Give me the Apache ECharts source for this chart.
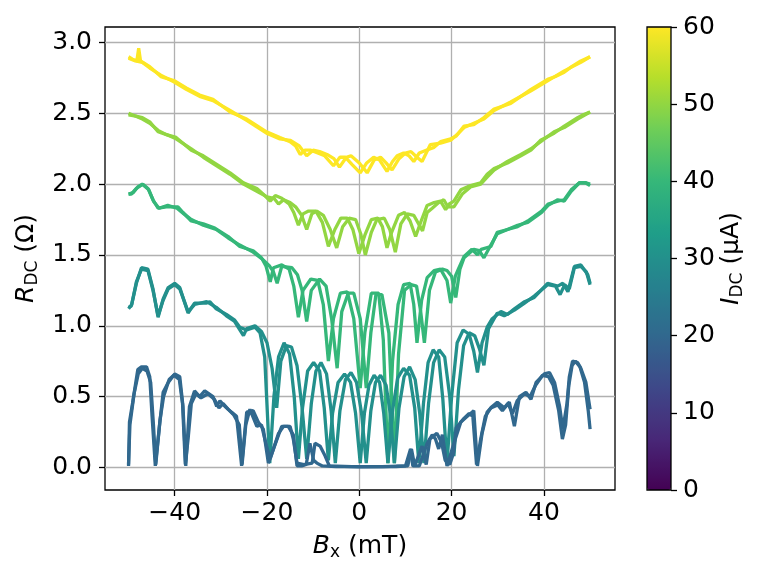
<!DOCTYPE html>
<html>
<head>
<meta charset="utf-8">
<script src="https://cdn.jsdelivr.net/npm/echarts@6/dist/echarts.min.js"></script>
<style>
  html, body { margin: 0; padding: 0; background: #fff; }
  #chart { width: 773px; height: 580px; }
</style>
</head>
<body>
<div id="chart"></div>
<script>
// B_x (mT), R_DC (Ohm); two field sweeps per current
const sweep60a = [[-50,2.90],[-49,2.88],[-48.2,2.87],[-47.8,2.96],[-47.4,2.87],[-45.4,2.83],[-43,2.76],[-40,2.73],[-37.5,2.68],[-34.6,2.63],[-31.7,2.60],[-28,2.51],[-24.4,2.46],[-20.1,2.37],[-17.2,2.33],[-15,2.30],[-13.8,2.27],[-12.8,2.21],[-11.8,2.24],[-10.5,2.24],[-9,2.22],[-7.5,2.20],[-5.6,2.13],[-4.2,2.19],[-3,2.19],[-1.6,2.14],[0.2,2.08],[1.6,2.15],[3.1,2.19],[4.4,2.17],[6.0,2.09],[7.2,2.16],[8.2,2.20],[9.6,2.22],[10.8,2.20],[11.8,2.16],[13,2.22],[14.5,2.24],[16.2,2.26],[17.6,2.30],[19.8,2.32],[21,2.34],[22.7,2.41],[24.8,2.42],[27,2.47],[29.2,2.53],[32.8,2.57],[35,2.62],[37.2,2.67],[40.8,2.74],[42.5,2.76],[44.4,2.79],[46,2.83],[48,2.87],[50,2.90]];
const sweep60b = [[-50,2.89],[-48.5,2.87],[-47,2.86],[-45.4,2.82],[-43,2.77],[-40,2.72],[-37.5,2.67],[-34.6,2.62],[-31.7,2.59],[-28,2.52],[-24.4,2.45],[-20.1,2.36],[-17.2,2.32],[-15,2.31],[-13,2.27],[-11.4,2.20],[-10,2.24],[-8.6,2.23],[-7,2.21],[-5.5,2.18],[-4.3,2.12],[-2.8,2.19],[-1.8,2.20],[0,2.15],[1.7,2.08],[3.2,2.17],[4.6,2.19],[5.8,2.15],[7.1,2.10],[8.6,2.18],[10,2.22],[11.2,2.23],[12.5,2.19],[13.6,2.16],[15.4,2.28],[17.6,2.29],[19.8,2.31],[21.5,2.36],[22.7,2.40],[24.8,2.43],[27,2.46],[29.2,2.52],[32.8,2.58],[37.2,2.66],[40.8,2.73],[44.4,2.80],[48,2.86],[50,2.90]];

const sweep50a = [[-50,2.50],[-48.4,2.48],[-47,2.47],[-45.4,2.44],[-43.6,2.37],[-41.8,2.35],[-39.7,2.33],[-36.4,2.24],[-33.8,2.20],[-30.9,2.14],[-28,2.08],[-25.1,2.01],[-22.2,1.97],[-20.5,1.92],[-19.3,1.88],[-18.2,1.92],[-16.8,1.90],[-15.2,1.86],[-14.2,1.80],[-13.2,1.71],[-12.2,1.79],[-11,1.81],[-9.4,1.81],[-8,1.73],[-6.7,1.56],[-5.3,1.68],[-4,1.76],[-2.6,1.76],[-1.4,1.68],[-0.1,1.51],[1.2,1.64],[2.6,1.75],[4,1.76],[5,1.70],[6.0,1.55],[7,1.66],[8.5,1.78],[9.8,1.80],[11,1.74],[12.2,1.63],[13.4,1.74],[14.7,1.85],[16.2,1.87],[17.6,1.88],[18.7,1.82],[19.5,1.86],[20.5,1.88],[22,1.96],[24.1,1.99],[26.3,2.01],[27.7,2.07],[29.2,2.11],[32.1,2.15],[35,2.20],[37.2,2.24],[39.3,2.31],[42.2,2.36],[44.4,2.41],[47.3,2.47],[48.5,2.49],[50,2.51]];
const sweep50b = [[-50,2.49],[-48.4,2.48],[-47,2.46],[-45.4,2.43],[-43.6,2.38],[-41.8,2.35],[-39.7,2.32],[-36.4,2.25],[-33.8,2.19],[-30.9,2.13],[-28,2.07],[-25.1,2.00],[-22.2,1.95],[-20,1.91],[-18.5,1.90],[-17.5,1.86],[-16.4,1.89],[-15,1.87],[-13.8,1.84],[-12.5,1.78],[-11.4,1.68],[-10.3,1.79],[-9.2,1.81],[-7.8,1.78],[-6.3,1.68],[-4.9,1.55],[-3.6,1.70],[-2.2,1.76],[-0.8,1.75],[0.3,1.65],[1.3,1.50],[2.6,1.66],[3.8,1.75],[5.4,1.76],[6.6,1.68],[7.8,1.52],[9,1.72],[10.4,1.79],[11.8,1.78],[13.7,1.67],[14.7,1.80],[15.8,1.83],[17.2,1.87],[18.3,1.89],[19.2,1.84],[20.5,1.84],[22.3,1.93],[24.1,1.98],[26.3,2.00],[27.7,2.05],[29.2,2.10],[32.1,2.16],[35,2.21],[37.2,2.25],[39.3,2.30],[42.2,2.37],[44.4,2.40],[47.3,2.46],[50,2.51]];

const sweep40a = [[-50,1.93],[-49.4,1.93],[-48.3,1.97],[-46.9,2.00],[-45.8,1.97],[-44.7,1.89],[-43.6,1.83],[-41.8,1.84],[-39.3,1.84],[-38.2,1.80],[-36.4,1.74],[-33.8,1.72],[-31.3,1.69],[-28.4,1.63],[-25.9,1.56],[-23,1.53],[-21.2,1.48],[-20.2,1.42],[-19.3,1.31],[-18.6,1.41],[-16.8,1.43],[-15.2,1.40],[-14.2,1.28],[-13.2,1.06],[-12.2,1.25],[-10.5,1.33],[-9,1.32],[-7.8,1.15],[-6.7,0.75],[-5.6,1.05],[-4.1,1.23],[-2.6,1.24],[-1.2,1.05],[0.2,0.56],[1.2,0.95],[2.6,1.23],[4.2,1.23],[5.2,0.90],[6.2,0.03],[7.2,0.75],[8.4,1.15],[9.6,1.29],[11,1.30],[11.8,1.15],[12.5,0.88],[13.5,1.18],[14.7,1.34],[16.2,1.39],[17.6,1.40],[19,1.32],[19.8,1.16],[20.8,1.35],[21.6,1.41],[22.7,1.49],[24.4,1.54],[25.6,1.50],[26.4,1.54],[28.5,1.56],[29.9,1.66],[32.1,1.68],[34.3,1.70],[36.5,1.74],[39.5,1.81],[40.9,1.86],[43,1.88],[44.4,1.89],[45.9,1.96],[47.7,2.01],[49.1,2.01],[50,2.00]];
const sweep40b = [[-50,1.93],[-49,1.94],[-48,1.98],[-47,2.00],[-45.6,1.96],[-44.6,1.88],[-43.4,1.83],[-41.5,1.85],[-39.5,1.83],[-38,1.79],[-36.4,1.75],[-33.8,1.71],[-31,1.68],[-28.4,1.62],[-25.9,1.57],[-23,1.52],[-21,1.47],[-19.4,1.42],[-18.6,1.38],[-17.8,1.30],[-16.8,1.42],[-14.6,1.41],[-13.4,1.36],[-12.4,1.25],[-11.4,1.03],[-10.4,1.25],[-8.6,1.33],[-7.2,1.28],[-6,1.05],[-4.8,0.70],[-3.8,1.10],[-2.4,1.23],[-1.2,1.23],[0.2,1.05],[1.5,0.56],[2.5,0.95],[3.6,1.22],[4.9,1.22],[6.4,0.95],[7.6,0.03],[8.5,0.80],[9.8,1.25],[11.2,1.29],[12.4,1.28],[13.3,1.10],[14.1,0.88],[15.2,1.25],[16.5,1.38],[18,1.40],[19,1.39],[20,1.35],[20.9,1.20],[21.8,1.40],[22.7,1.48],[24.8,1.54],[26,1.53],[27,1.48],[28.5,1.57],[29.9,1.65],[32.1,1.68],[34.3,1.71],[36.5,1.73],[39.5,1.80],[40.9,1.85],[43,1.89],[44.4,1.88],[45.9,1.95],[47.7,2.01],[49,2.01],[50,1.99]];

const sweep30a = [[-50,1.13],[-49.4,1.14],[-48.3,1.30],[-47.2,1.41],[-45.8,1.40],[-44.7,1.26],[-43.6,1.06],[-42.5,1.19],[-41.4,1.27],[-40,1.30],[-38.9,1.27],[-37.1,1.09],[-35.7,1.16],[-33.1,1.16],[-32.4,1.17],[-31,1.12],[-28.8,1.08],[-27,1.04],[-25.9,0.99],[-24.4,0.97],[-22.6,0.99],[-21.5,0.95],[-20.5,0.78],[-19.4,0.03],[-18.5,0.50],[-17.5,0.78],[-16.3,0.88],[-15.1,0.80],[-14.1,0.50],[-13.2,0.06],[-12.3,0.42],[-11.2,0.68],[-9.9,0.74],[-8.6,0.68],[-7.6,0.42],[-6.7,0.05],[-5.8,0.38],[-4.6,0.60],[-3.2,0.66],[-1.9,0.60],[-0.8,0.38],[0.2,0.03],[1.1,0.38],[2.1,0.58],[3.2,0.65],[4.4,0.60],[5.3,0.38],[6.2,0.03],[7.2,0.40],[8.3,0.63],[9.6,0.70],[10.9,0.65],[12,0.42],[12.9,0.03],[13.9,0.45],[14.9,0.74],[16,0.83],[17.2,0.78],[18.1,0.48],[19,0.03],[20,0.50],[21.2,0.88],[22.5,0.97],[23.8,0.94],[24.8,0.82],[25.6,0.67],[26.6,0.88],[27.7,0.99],[28.8,1.05],[30.7,1.10],[32.1,1.08],[33.6,1.12],[35.8,1.17],[37.9,1.20],[40.8,1.30],[43,1.28],[44.1,1.30],[45.2,1.24],[46.6,1.42],[48,1.43],[49.5,1.36],[50,1.30]];
const sweep30b = [[-50,1.12],[-49.3,1.15],[-48.3,1.31],[-47.2,1.40],[-45.8,1.39],[-44.7,1.25],[-43.6,1.07],[-42.5,1.18],[-41.4,1.26],[-40,1.29],[-38.9,1.26],[-37.1,1.10],[-35.7,1.15],[-33.1,1.17],[-31,1.13],[-28.8,1.07],[-27,1.03],[-25.1,0.93],[-24.4,0.98],[-22.6,1.00],[-21.2,0.96],[-20,0.88],[-18.9,0.70],[-17.9,0.42],[-17,0.75],[-15.8,0.86],[-14.7,0.85],[-13.5,0.72],[-12.4,0.42],[-11.4,0.06],[-10.4,0.45],[-9.4,0.68],[-8.3,0.74],[-7.1,0.66],[-6.1,0.40],[-5.2,0.03],[-4.2,0.40],[-3,0.62],[-1.8,0.67],[-0.6,0.60],[0.5,0.38],[1.5,0.03],[2.5,0.40],[3.5,0.60],[4.6,0.65],[5.8,0.58],[6.7,0.38],[7.6,0.03],[8.6,0.42],[9.7,0.64],[10.9,0.71],[12.1,0.62],[13.1,0.38],[14,0.03],[15,0.45],[16.1,0.74],[17.3,0.83],[18.5,0.78],[19.6,0.50],[20.5,0.08],[21.5,0.55],[22.6,0.86],[23.8,0.95],[25,0.93],[26,0.84],[27,0.72],[28,0.98],[29.9,1.09],[31.4,1.07],[33.6,1.11],[35.8,1.16],[37.9,1.21],[40.8,1.29],[42.5,1.28],[43.5,1.22],[44.5,1.29],[45.5,1.26],[46.6,1.41],[48,1.42],[49.2,1.38],[50,1.29]];

const sweep20a = [[-50,0.01],[-49.8,0.32],[-49.1,0.46],[-48,0.69],[-47.2,0.71],[-46.1,0.71],[-45.4,0.64],[-44.9,0.36],[-44.2,0.01],[-43.3,0.29],[-42.5,0.53],[-41.4,0.60],[-40,0.66],[-38.9,0.64],[-38.2,0.43],[-37.6,0.01],[-36.8,0.43],[-35.7,0.54],[-34.6,0.50],[-33.5,0.54],[-31.7,0.50],[-30.9,0.43],[-30.2,0.47],[-29.1,0.43],[-27.7,0.39],[-26.6,0.36],[-25.5,0.01],[-24.4,0.39],[-23,0.40],[-21.9,0.32],[-20.8,0.27],[-19.7,0.03],[-18.6,0.13],[-16.8,0.29],[-15.4,0.29],[-14.3,0.23],[-13.5,0.01],[-12.5,0.01],[-11.5,0.02],[-10.7,0.17],[-9.9,0.05],[-9.2,0.03],[-8,0.01],[-5,0.005],[0,0.005],[5,0.005],[10,0.01],[11.1,0.13],[11.6,0.01],[13,0.01],[14.7,0.17],[15.8,0.23],[16.5,0.20],[17.2,0.13],[18,0.23],[19,0.01],[20.5,0.17],[22,0.32],[23.4,0.36],[24.8,0.40],[25.6,0.01],[26.6,0.24],[27.7,0.39],[28.8,0.43],[29.9,0.46],[31.4,0.42],[32.5,0.46],[33.6,0.29],[34.7,0.50],[36.1,0.53],[37.2,0.48],[38.3,0.60],[40.1,0.66],[41.2,0.67],[42.3,0.60],[43.4,0.43],[44.1,0.27],[45,0.45],[45.5,0.64],[46.2,0.75],[47.3,0.74],[48,0.70],[49.1,0.60],[50,0.41]];
const sweep20b = [[-50,0.02],[-49.7,0.30],[-48.8,0.52],[-47.9,0.66],[-47,0.70],[-46,0.68],[-45.2,0.60],[-44.6,0.30],[-44.1,0.02],[-43.2,0.33],[-42.4,0.50],[-41.2,0.62],[-40.2,0.65],[-39,0.62],[-38.3,0.45],[-37.7,0.02],[-37.1,0.20],[-36.4,0.45],[-35.4,0.52],[-34.3,0.49],[-32.8,0.52],[-31.4,0.48],[-30.4,0.42],[-29.5,0.45],[-28.4,0.41],[-27.2,0.37],[-26,0.30],[-25.4,0.02],[-24.6,0.30],[-23.7,0.41],[-22.2,0.29],[-21.2,0.30],[-20.1,0.15],[-19.3,0.06],[-18.6,0.13],[-17.5,0.24],[-16.4,0.29],[-15,0.29],[-14.3,0.20],[-13.5,0.03],[-12,0.02],[-10.2,0.03],[-9.6,0.17],[-8.5,0.15],[-7.4,0.08],[-6.5,0.01],[0,0.004],[8,0.006],[10.5,0.01],[11.3,0.13],[12,0.01],[13.6,0.15],[14.5,0.02],[15.3,0.20],[16.8,0.24],[17.8,0.18],[18.6,0.05],[19.6,0.02],[20.4,0.10],[21,0.28],[22.5,0.34],[23.8,0.38],[24.6,0.36],[25.4,0.02],[26.3,0.20],[27.3,0.36],[28.5,0.42],[30,0.44],[31,0.40],[32.2,0.45],[33.2,0.38],[34.2,0.47],[35.8,0.52],[37,0.50],[38.2,0.58],[39.7,0.65],[41,0.64],[42,0.58],[43.2,0.40],[44,0.20],[44.7,0.30],[45.4,0.58],[46.1,0.72],[46.8,0.75],[47.8,0.71],[48.8,0.60],[49.6,0.40],[50,0.27]];

// I_DC (uA) for each sweep, drawing order high -> low current
const sweepCurrents = [60, 60, 50, 50, 40, 40, 30, 30, 20, 20];
const sweepData = [sweep60a, sweep60b, sweep50a, sweep50b, sweep40a, sweep40b, sweep30a, sweep30b, sweep20a, sweep20b];

const xTicks = [-40, -20, 0, 20, 40];
const yTicks = [0, 0.5, 1, 1.5, 2, 2.5, 3];
const currentMin = 0;
const currentMax = 60;

const viridis = ['#440154', '#482878', '#3e4989', '#31688e', '#26828e',
                 '#1f9e89', '#35b779', '#6ece58', '#b5de2b', '#fde725'];

function hexToRgb(h) {
  return [1, 3, 5].map(i => parseInt(h.slice(i, i + 2), 16));
}

function viridisAt(t) {
  const pos = Math.max(0, Math.min(1, t)) * (viridis.length - 1);
  const i = Math.min(Math.floor(pos), viridis.length - 2);
  const f = pos - i;
  const a = hexToRgb(viridis[i]);
  const b = hexToRgb(viridis[i + 1]);
  return 'rgb(' + a.map((v, k) => Math.round(v + (b[k] - v) * f)).join(',') + ')';
}

const font = 'DejaVu Sans';
const fs = 25;
const rich = {
  i: { fontFamily: font, fontStyle: 'italic', fontSize: fs, lineHeight: 30, color: '#000', verticalAlign: 'middle' },
  sub: { fontFamily: font, fontSize: 17, lineHeight: 15, color: '#000', verticalAlign: 'bottom' },
  r: { fontFamily: font, fontSize: fs, lineHeight: 30, color: '#000', verticalAlign: 'middle' }
};

const chart = echarts.init(document.getElementById('chart'));

const series = sweepData.map((points, k) => ({
  type: 'line',
  xAxisIndex: 0,
  yAxisIndex: 0,
  data: points,
  showSymbol: false,
  silent: true,
  lineStyle: { color: viridisAt((sweepCurrents[k] - currentMin) / (currentMax - currentMin)), width: 3.3 }
}));

const tickStyle = { show: true, inside: false, length: 6, lineStyle: { color: '#000', width: 1.3 } };

chart.setOption({
  animation: false,
  textStyle: { fontFamily: font },
  grid: [
    { left: 105, top: 27, width: 510, height: 463, show: true, borderColor: '#000', borderWidth: 1.3, backgroundColor: 'transparent' },
    { left: 647, top: 27, width: 24, height: 463, show: true, borderColor: '#000', borderWidth: 1.3, backgroundColor: 'transparent', z: 6 }
  ],
  xAxis: [
    {
      gridIndex: 0, type: 'value', min: -55.1, max: 55.4,
      axisLine: { show: false, onZero: false },
      axisTick: Object.assign({ customValues: xTicks }, tickStyle),
      axisLabel: { customValues: xTicks, color: '#000', fontSize: fs, fontFamily: font, margin: 11,
                   formatter: v => (v < 0 ? '\u2212' + Math.abs(v) : String(v)) },
      splitLine: { show: true, lineStyle: { color: '#b0b0b0', width: 1.3 } },
      name: '{i|B}{sub|x}{r| (mT)}',
      nameLocation: 'middle',
      nameGap: 41,
      nameTextStyle: { rich: rich }
    },
    { gridIndex: 1, type: 'value', min: 0, max: 1, show: false }
  ],
  yAxis: [
    {
      gridIndex: 0, type: 'value', min: -0.16, max: 3.11,
      axisLine: { show: false, onZero: false },
      axisTick: Object.assign({ customValues: yTicks }, tickStyle),
      axisLabel: { customValues: yTicks, color: '#000', fontSize: fs, fontFamily: font, margin: 13,
                   formatter: v => v.toFixed(1) },
      splitLine: { show: true, lineStyle: { color: '#b0b0b0', width: 1.3 } },
      name: '{i|R}{sub|DC}{r| (\u03A9)}',
      nameLocation: 'middle',
      nameGap: 59,
      nameTextStyle: { rich: rich }
    },
    {
      gridIndex: 1, type: 'value', position: 'right', min: currentMin, max: currentMax, interval: 10,
      axisLine: { show: false, onZero: false },
      axisTick: tickStyle,
      axisLabel: { color: '#000', fontSize: fs, fontFamily: font, margin: 12 },
      splitLine: { show: false },
      name: '{i|I}{sub|DC}{r| (\u03BCA)}',
      nameLocation: 'middle',
      nameGap: 45,
      nameTextStyle: { rich: rich }
    }
  ],
  visualMap: {
    type: 'continuous',
    min: currentMin,
    max: currentMax,
    seriesIndex: [],
    calculable: false,
    hoverLink: false,
    left: 647,
    top: 27,
    itemWidth: 24,
    itemHeight: 463,
    padding: 0,
    z: 2,
    inRange: { color: viridis }
  },
  series: series
});
</script>
</body>
</html>
